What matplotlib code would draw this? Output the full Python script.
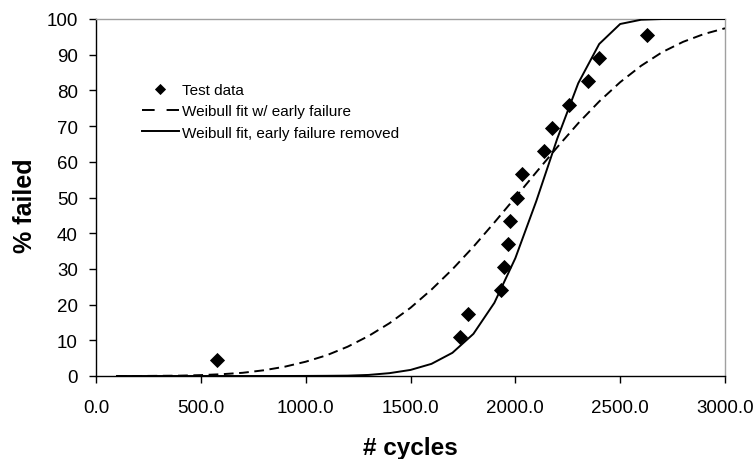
import numpy as np
import matplotlib
matplotlib.use("Agg")
import matplotlib.pyplot as plt

plt.rcParams['font.family'] = ['Liberation Sans', 'DejaVu Sans']
plt.rcParams['lines.scale_dashes'] = False

# test data (cycles to failure, median rank %)
test_cycles = [576, 1736, 1776, 1934, 1948, 1966, 1976, 2010, 2032, 2136, 2176, 2255, 2346, 2400, 2626]
test_failed = [4.5, 11.0, 17.5, 24.0, 30.5, 37.0, 43.5, 50.0, 56.5, 63.0, 69.5, 76.0, 82.5, 89.0, 95.5]

# fitted curves, read every 100 cycles
fit_cycles = list(range(100, 3100, 100))
fit_early = [0.0, 0.0, 0.05, 0.1, 0.25, 0.5, 0.9, 1.6, 2.6, 4.0,
             5.8, 8.2, 11.2, 14.8, 19.1, 24.2, 29.9, 36.2, 43.0, 50.0,
             57.1, 64.1, 70.8, 76.9, 82.3, 86.9, 90.7, 93.6, 95.8, 97.4]
fit_removed = [0.0, 0.0, 0.0, 0.0, 0.0, 0.0, 0.0, 0.0, 0.0, 0.02,
               0.05, 0.1, 0.3, 0.8, 1.7, 3.4, 6.5, 11.8, 20.5, 33.0,
               49.0, 66.5, 82.0, 93.0, 98.6, 99.8, 100.0, 100.0, 100.0, 100.0]

fig = plt.figure(figsize=(7.56, 4.6), dpi=100)
ax = fig.add_axes([96/756, 83/460, 629/756, 357/460])

ax.plot(test_cycles, test_failed, linestyle='none', marker='D', ms=7.4,
        color='black', mec='black', mew=0.6, label='Test data', zorder=4)
ax.plot(fit_cycles, fit_early, color='black', lw=1.4, dashes=(7, 4),
        label='Weibull fit w/ early failure', zorder=3)
ax.plot(fit_cycles, fit_removed, color='black', lw=1.4,
        label='Weibull fit, early failure removed', zorder=3)

ax.set_xlim(0, 3000)
ax.set_ylim(0, 100)
ax.set_xticks(np.arange(0, 3001, 500))
ax.set_xticklabels(['%.1f' % v for v in np.arange(0, 3001, 500)])
ax.set_yticks(np.arange(0, 101, 10))
ax.tick_params(direction='out', length=5, width=1, labelsize=13.5, pad=8, color='black')
ax.tick_params(axis='x', pad=11.5)

for s in ['left', 'bottom']:
    ax.spines[s].set_color('black')
    ax.spines[s].set_linewidth(1)
for s in ['top', 'right']:
    ax.spines[s].set_color('#a0a0a0')
    ax.spines[s].set_linewidth(1)

ax.set_xlabel('# cycles', fontsize=17.5, fontweight='bold')
ax.set_ylabel('% failed', fontsize=18, fontweight='bold')
ax.xaxis.set_label_coords(0.5, -0.167)
ax.yaxis.set_label_coords(-0.094, 0.48)

leg = ax.legend(loc='upper left', bbox_to_anchor=(142/756, (460-84)/460),
                bbox_transform=fig.transFigure, frameon=False, fontsize=11,
                handlelength=2.4, handletextpad=0.2, labelspacing=0.48,
                borderpad=0, borderaxespad=0, markerscale=0.7)
# Excel-style legend dash: two long dashes
leg.get_lines()[1].set_dashes((9.1, 8.6))

fig.savefig('out.png', dpi=100)
